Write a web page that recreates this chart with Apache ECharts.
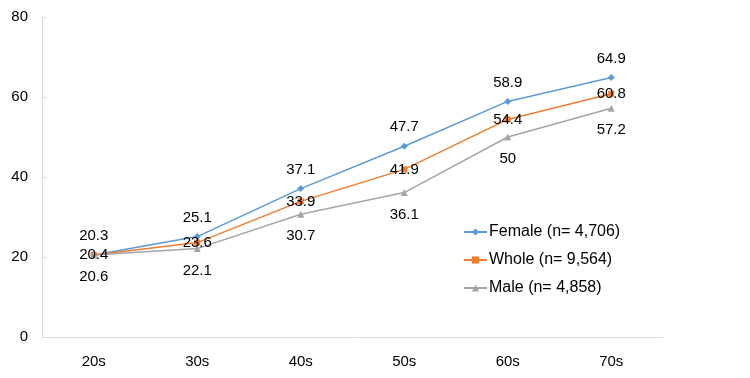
<!DOCTYPE html>
<html><head><meta charset="utf-8">
<script src="https://cdn.jsdelivr.net/npm/echarts@6/dist/echarts.min.js"></script>
<style>html,body{margin:0;padding:0;background:#fff}#c{width:750px;height:378px}</style>
</head><body><div id="c"></div>
<script>
const categories = ['20s','30s','40s','50s','60s','70s'];
const female = [20.3, 25.1, 37.1, 47.7, 58.9, 64.9];
const whole = [20.4, 23.6, 33.9, 41.9, 54.4, 60.8];
const male = [20.6, 22.1, 30.7, 36.1, 50, 57.2];
const plotFemale = [20.5, 25.1, 37.1, 47.7, 58.9, 64.9];
const plotWhole = [20.5, 23.6, 33.9, 41.9, 54.4, 60.8];
const plotMale = [20.5, 22.1, 30.7, 36.1, 50, 57.2];
const yTicks = [0, 20, 40, 60, 80];
const names = ['Female (n= 4,706)', 'Whole (n= 9,564)', 'Male (n= 4,858)'];

const font = 'Liberation Sans';
function mk(name, plot, labels, color, symbol, size, pos, dist) {
  return {
    name, type: 'line', data: plot.map((v, i) => ({value: v, labelText: labels[i]})),
    symbol, symbolSize: size,
    lineStyle: {color, width: 1.5}, itemStyle: {color},
    label: {show: true, position: pos, distance: dist, color: '#000', fontFamily: font, fontSize: 15,
      formatter: p => String(p.data.labelText)},
    emphasis: {disabled: true}
  };
}
const chart = echarts.init(document.getElementById('c'));
chart.setOption({
  animation: false,
  grid: {left: 42, right: 87, top: 17, bottom: 41},
  legend: {
    orient: 'vertical', left: 458, top: 219, itemGap: 12, itemWidth: 23, itemHeight: 9,
    textStyle: {fontFamily: font, fontSize: 16, color: '#000', padding: [0, 0, 0, -3]},
    data: names
  },
  xAxis: {
    type: 'category', data: categories, boundaryGap: true,
    axisLine: {lineStyle: {color: '#d9d9d9'}}, axisTick: {show: false},
    axisLabel: {color: '#000', fontFamily: font, fontSize: 15, margin: 17}
  },
  yAxis: {
    type: 'value', min: yTicks[0], max: yTicks[yTicks.length - 1], interval: 20,
    axisLine: {show: true, lineStyle: {color: '#d9d9d9'}},
    axisTick: {show: true, inside: true, length: 5, lineStyle: {color: '#d9d9d9'}},
    splitLine: {show: false},
    axisLabel: {color: '#000', fontFamily: font, fontSize: 15, margin: 14}
  },
  series: [
    mk(names[0], plotFemale, female, '#5b9bd5', 'diamond', 7, 'top', 8),
    mk(names[1], plotWhole, whole, '#ed7d31', 'rect', 6, 'inside', 0),
    mk(names[2], plotMale, male, '#a5a5a5', 'triangle', 7, 'bottom', 11)
  ]
});
</script></body></html>
